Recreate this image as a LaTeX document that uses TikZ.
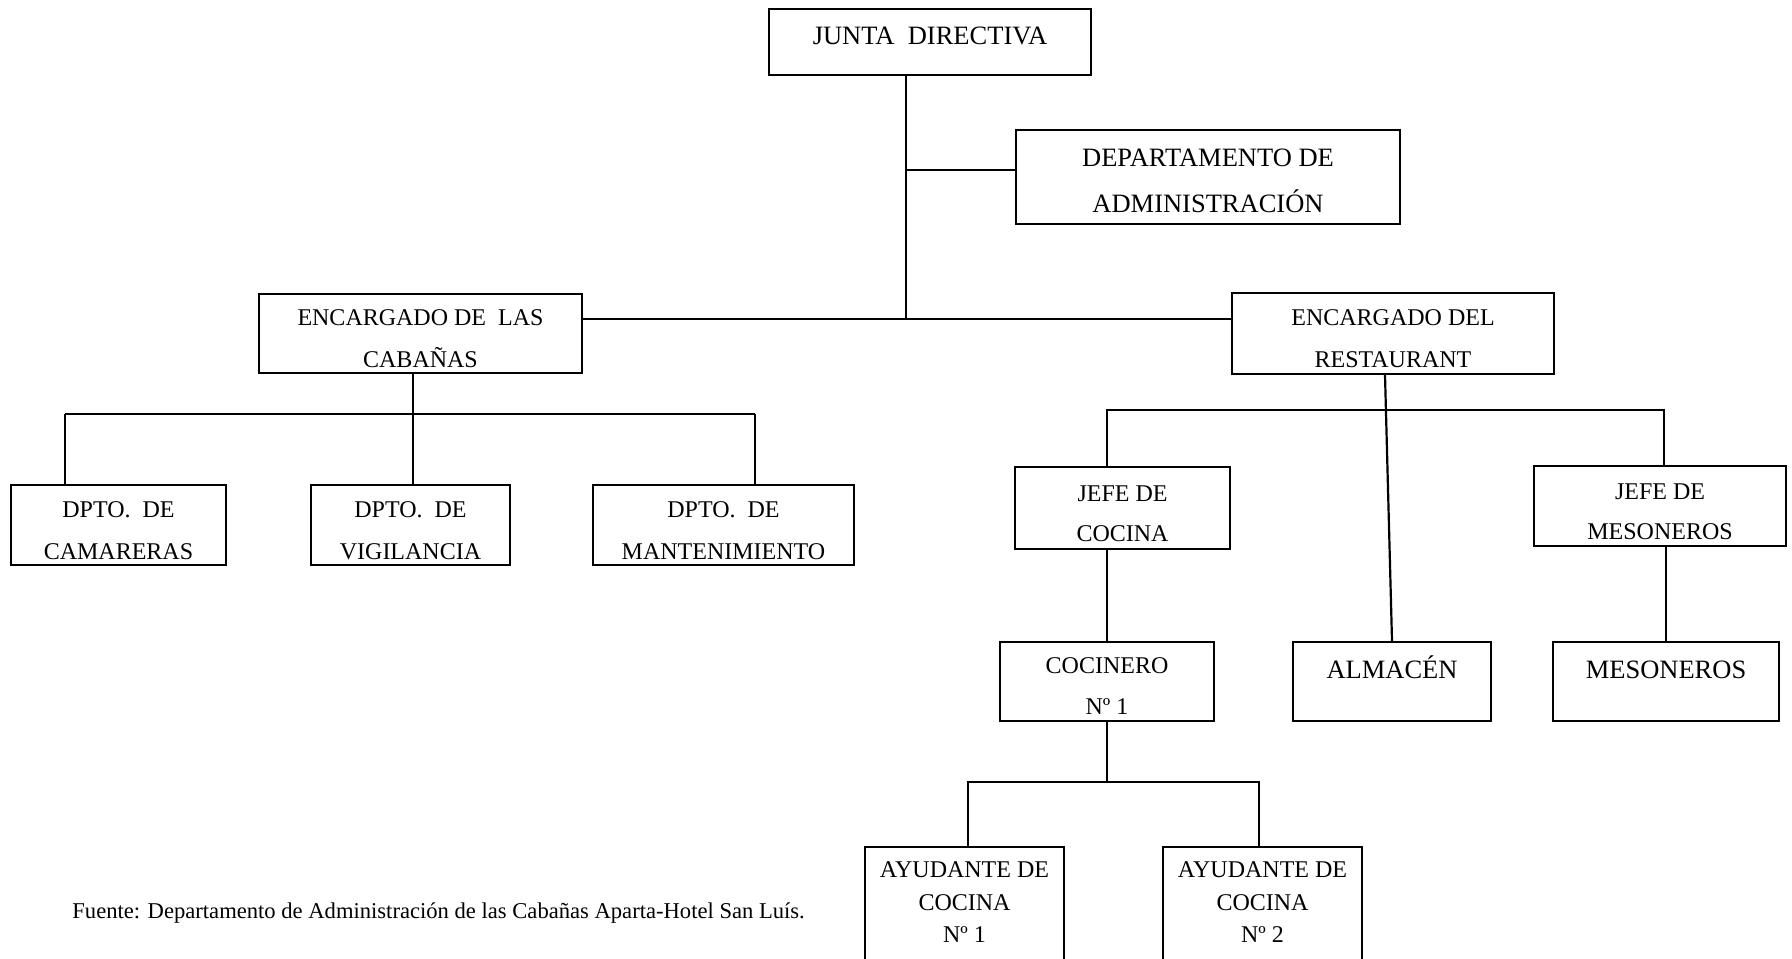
\documentclass[tikz,border=0pt]{standalone}
\usepackage{fontspec}
\setmainfont{Liberation Serif}
\newcommand{\boxtxt}[2]{\raisebox{\dimexpr#1-3pt\relax}[0pt][0pt]{\begin{tabular}{@{}c@{}}#2\end{tabular}}}
\begin{document}
\begin{tikzpicture}[x=0.5pt,y=-0.5pt,
  box/.style={draw,line width=1.1pt,inner sep=0pt,align=center,font=\fontsize{12}{21}\selectfont},
  big/.style={font=\fontsize{13.25}{23}\selectfont},
  conn/.style={line width=1.1pt}]
\useasboundingbox (0,0) rectangle (1792,958);
% boxes
\node[box,big,minimum width=322*0.5pt,minimum height=66*0.5pt] (junta) at (930,42) {\boxtxt{2.7pt}{JUNTA\ \ DIRECTIVA}};
\node[box,big,minimum width=384*0.5pt,minimum height=94*0.5pt] (admin) at (1208,177) {\boxtxt{-2.1pt}{DEPARTAMENTO DE\\ADMINISTRACIÓN}};
\node[box,minimum width=323*0.5pt,minimum height=79*0.5pt] (cab) at (420.5,333.5) {\boxtxt{-2.5pt}{ENCARGADO DE\ \ LAS\\CABAÑAS}};
\node[box,minimum width=322*0.5pt,minimum height=81*0.5pt] (rest) at (1393,333.5) {\boxtxt{-2.5pt}{ENCARGADO DEL\\RESTAURANT}};
\node[box,minimum width=215*0.5pt,minimum height=80*0.5pt] (cam) at (118.5,525) {\boxtxt{-2.3pt}{DPTO.\ \ DE\\CAMARERAS}};
\node[box,minimum width=199*0.5pt,minimum height=80*0.5pt] (vig) at (410.5,525) {\boxtxt{-2.3pt}{DPTO.\ \ DE\\VIGILANCIA}};
\node[box,minimum width=261*0.5pt,minimum height=80*0.5pt] (mant) at (723.5,525) {\boxtxt{-2.3pt}{DPTO.\ \ DE\\MANTENIMIENTO}};
\node[box,font=\fontsize{12}{20}\selectfont,minimum width=215*0.5pt,minimum height=82*0.5pt] (jcoc) at (1122.5,508) {\boxtxt{-2.9pt}{JEFE DE\\COCINA}};
\node[box,font=\fontsize{12}{20}\selectfont,minimum width=252*0.5pt,minimum height=80*0.5pt] (jmes) at (1660,506) {\boxtxt{-2.6pt}{JEFE DE\\MESONEROS}};
\node[box,font=\fontsize{12}{20.5}\selectfont,minimum width=214*0.5pt,minimum height=79*0.5pt] (coc) at (1107,681.5) {\boxtxt{-2.3pt}{COCINERO\\Nº 1}};
\node[box,big,minimum width=198*0.5pt,minimum height=79*0.5pt] (alm) at (1392,681.5) {\boxtxt{5.6pt}{ALMACÉN}};
\node[box,big,minimum width=226*0.5pt,minimum height=79*0.5pt] (mes) at (1666,681.5) {\boxtxt{5.6pt}{MESONEROS}};
\node[box,font=\fontsize{12}{16.3}\selectfont,minimum width=199*0.5pt,minimum height=116*0.5pt] (ay1) at (964.5,905) {\boxtxt{0.6pt}{AYUDANTE DE\\COCINA\\Nº 1}};
\node[box,font=\fontsize{12}{16.3}\selectfont,minimum width=199*0.5pt,minimum height=116*0.5pt] (ay2) at (1262.5,905) {\boxtxt{0.6pt}{AYUDANTE DE\\COCINA\\Nº 2}};
\node[anchor=west,inner sep=0pt,font=\fontsize{11.3}{13}\selectfont] (fuente) at (72,913.5) {Fuente: Departamento de Administración de las Cabañas Aparta-Hotel San Luís.};
% connector points
\coordinate (t0) at (906,170);
\coordinate (t1) at (906,319);
\coordinate (c1) at (413,414);
\coordinate (cl) at (65,414);
\coordinate (cr) at (755,414);
\coordinate (rs) at (1385,374);
\coordinate (rl) at (1107,410);
\coordinate (rr) at (1664,410);
\coordinate (al) at (968,782);
\coordinate (ar) at (1259,782);
% connectors
\draw[conn] (junta.south -| t1) -- (t1);
\draw[conn] (t0) -- (t0 -| admin.west);
\draw[conn] (t1 -| cab.east) -- (t1 -| rest.west);
\draw[conn] (c1 |- cab.south) -- (c1 |- vig.north);
\draw[conn] (cl) -- (cr);
\draw[conn] (cl) -- (cl |- cam.north);
\draw[conn] (cr) -- (cr |- mant.north);
\draw[conn] (rs |- rest.south) -- (alm.north);
\draw[conn] (rl |- jcoc.north) -- (rl) -- (rr) -- (rr |- jmes.north);
\draw[conn] (coc.north |- jcoc.south) -- (coc.north);
\draw[conn] (mes.north |- jmes.south) -- (mes.north);
\draw[conn] (coc.south) -- (coc.south |- al);
\draw[conn] (al |- ay1.north) -- (al) -- (ar) -- (ar |- ay2.north);
\end{tikzpicture}
\end{document}
